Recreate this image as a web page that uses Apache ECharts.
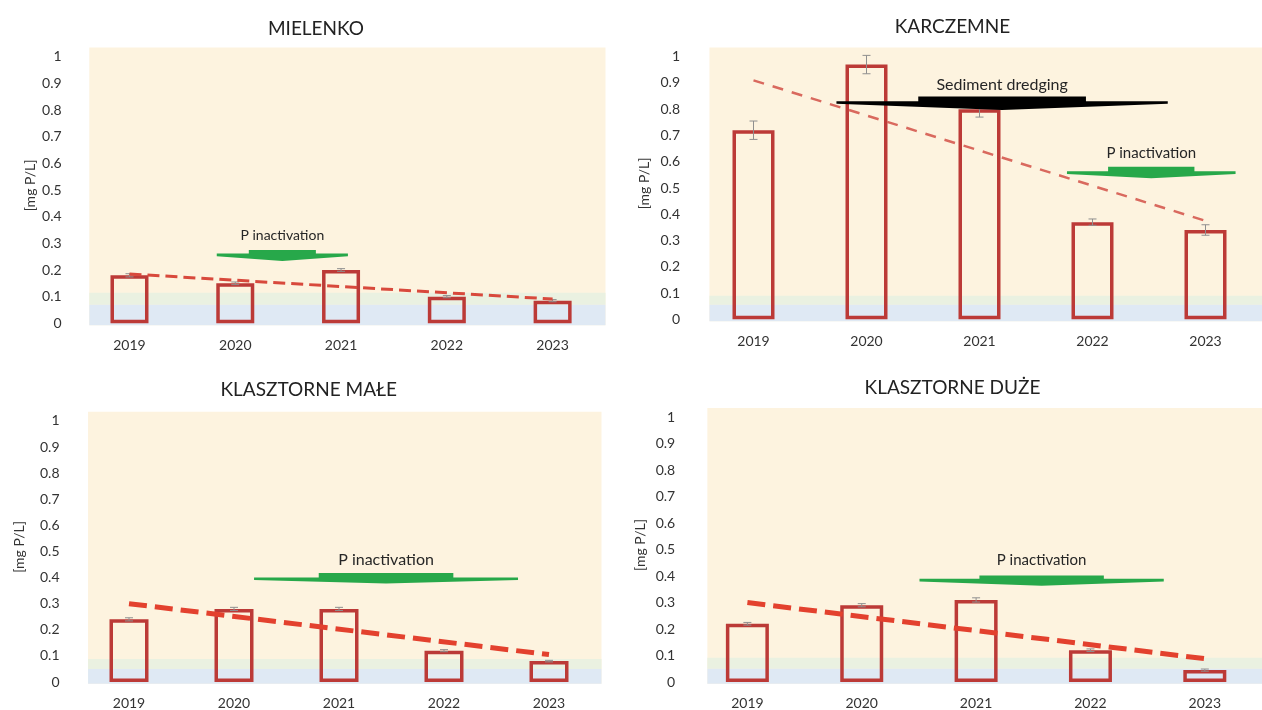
<!DOCTYPE html>
<html>
<head>
<meta charset="utf-8">
<script src="https://cdn.jsdelivr.net/npm/echarts/dist/echarts.min.js"></script>
<style>
  html, body { margin: 0; padding: 0; background: #ffffff; }
  #chart { width: 1262px; height: 710px; }
</style>
</head>
<body>
<div id="chart"></div>
<script>
// Total phosphorus in four lakes, 2019–2023 [mg P/L]
const years = ['2019', '2020', '2021', '2022', '2023'];
const lakes = ['MIELENKO', 'KARCZEMNE', 'KLASZTORNE MAŁE', 'KLASZTORNE DUŻE'];

// mean concentration per year
const mielenko       = [0.18, 0.15, 0.20, 0.10, 0.085];
const karczemne      = [0.72, 0.97, 0.80, 0.37, 0.34];
const klasztorneMale = [0.24, 0.28, 0.28, 0.12, 0.08];
const klasztorneDuze = [0.22, 0.29, 0.31, 0.12, 0.045];

// standard error per year
const mielenkoErr       = [0.006, 0.005, 0.005, 0.004, 0.004];
const karczemneErr      = [0.035, 0.035, 0.03, 0.012, 0.02];
const klasztorneMaleErr = [0.006, 0.006, 0.006, 0.004, 0.003];
const klasztorneDuzeErr = [0.005, 0.006, 0.008, 0.005, 0.004];

// trend line values at 2019 and 2023
const mielenkoTrend       = [0.185, 0.091];
const karczemneTrend      = [0.91, 0.375];
const klasztorneMaleTrend = [0.30, 0.105];
const klasztorneDuzeTrend = [0.30, 0.088];

// y axis ticks
const yMin = 0, yMax = 1, yStep = 0.1;
const axisTitle = '[mg P/L]';

const FONT = 'Lato, "Open Sans", sans-serif';
const YTOP = 1.035;           // plot background reaches a little above the last tick
const GREEN = '#27a84a';
const TEXT = '#333333';

const panels = [
  {
    title: lakes[0], values: mielenko, err: mielenkoErr, trend: mielenkoTrend,
    grid: { left: 76.6, top: 47.4, width: 528.9, height: 275.9 },
    titleX: 311, titleY: 14, bgLeft: -0.38, bands: [0.07, 0.115], barWidth: 38,
    yLabelMargin: 15, nameGap: 39, xLabelMargin: 15,
    trendStyle: { color: '#d8493c', width: 3, dash: [12, 6] },
    arrows: [
      { text: 'P inactivation', color: GREEN, cx: 1.445, wing: 0.62, shaft: 0.317,
        shaftTop: 0.275, wingY: 0.256, tipY: 0.234, textY: 0.331, fontSize: 14 }
    ]
  },
  {
    title: lakes[1], values: karczemne, err: karczemneErr, trend: karczemneTrend,
    grid: { left: 697, top: 47.5, width: 569.6, height: 271.8 },
    titleX: 947.5, titleY: 12.5, bgLeft: -0.39, bands: [0.055, 0.09], barWidth: 42,
    yLabelMargin: 17, nameGap: 46, xLabelMargin: 15,
    trendStyle: { color: '#d9695e', width: 2.5, dash: [11, 9] },
    arrows: [
      { text: 'Sediment dredging', color: '#000000', cx: 2.2, wing: 1.466, shaft: 0.742,
        shaftTop: 0.848, wingY: 0.825, tipY: 0.797, textY: 0.892, fontSize: 16 },
      { text: 'P inactivation', color: GREEN, cx: 3.52, wing: 0.746, shaft: 0.382,
        shaftTop: 0.581, wingY: 0.558, tipY: 0.537, textY: 0.634, fontSize: 15 }
    ]
  },
  {
    title: lakes[2], values: klasztorneMale, err: klasztorneMaleErr, trend: klasztorneMaleTrend,
    grid: { left: 76.5, top: 411.8, width: 525, height: 270.9 },
    titleX: 303.7, titleY: 375, bgLeft: -0.39, bands: [0.05, 0.088], barWidth: 39,
    yLabelMargin: 17, nameGap: 50, xLabelMargin: 14,
    trendStyle: { color: '#e3412e', width: 5, dash: [18, 8] },
    arrows: [
      { text: 'P inactivation', color: GREEN, cx: 2.448, wing: 1.257, shaft: 0.641,
        shaftTop: 0.418, wingY: 0.395, tipY: 0.377, textY: 0.469, fontSize: 16 }
    ]
  },
  {
    title: lakes[3], values: klasztorneDuze, err: klasztorneDuzeErr, trend: klasztorneDuzeTrend,
    grid: { left: 690.2, top: 408, width: 580.8, height: 274.7 },
    titleX: 947.5, titleY: 373.5, bgLeft: -0.35, bands: [0.05, 0.092], barWidth: 43,
    yLabelMargin: 15, nameGap: 43, xLabelMargin: 14,
    trendStyle: { color: '#e3412e', width: 5, dash: [18, 8] },
    arrows: [
      { text: 'P inactivation', color: GREEN, cx: 2.573, wing: 1.068, shaft: 0.544,
        shaftTop: 0.402, wingY: 0.384, tipY: 0.364, textY: 0.462, fontSize: 15 }
    ]
  }
];

const option = {
  backgroundColor: '#ffffff',
  animation: false,
  textStyle: { fontFamily: FONT },
  title: [], grid: [], xAxis: [], yAxis: [], series: []
};

panels.forEach((p, k) => {
  const catAxis = 2 * k, valAxis = 2 * k + 1;

  option.title.push({
    text: p.title, left: p.titleX, top: p.titleY, textAlign: 'center',
    textStyle: { fontFamily: FONT, fontSize: 19, fontWeight: 'normal', color: '#222222' }
  });

  option.grid.push(Object.assign({ containLabel: false }, p.grid));

  option.xAxis.push({
    type: 'category', gridIndex: k, data: years, boundaryGap: true,
    axisLine: { show: false }, axisTick: { show: false }, splitLine: { show: false },
    axisLabel: { margin: p.xLabelMargin, fontSize: 14, color: TEXT, fontFamily: FONT }
  });
  option.xAxis.push({
    type: 'value', gridIndex: k, min: -0.5, max: 4.5, show: false
  });

  option.yAxis.push({
    type: 'value', gridIndex: k, min: yMin, max: YTOP, interval: yStep,
    name: axisTitle, nameLocation: 'middle', nameRotate: 90, nameGap: p.nameGap,
    nameTextStyle: { fontSize: 14, color: TEXT, fontFamily: FONT },
    axisLine: { show: false }, axisTick: { show: false }, splitLine: { show: false },
    axisLabel: {
      margin: p.yLabelMargin, fontSize: 14, color: TEXT, fontFamily: FONT,
      showMaxLabel: false,
      formatter: v => (v > yMax + 1e-9 ? '' : String(+v.toFixed(1)))
    }
  });

  // plot background with the low-concentration bands
  option.series.push({
    type: 'custom', xAxisIndex: valAxis, yAxisIndex: k, z: 0, silent: true,
    data: [[0, 0]],
    renderItem: (params, api) => {
      const tl = api.coord([p.bgLeft, YTOP]);
      const br = api.coord([4.5, -0.007]);
      const b1 = api.coord([0, p.bands[0]])[1];
      const b2 = api.coord([0, p.bands[1]])[1];
      const w = br[0] - tl[0];
      return {
        type: 'group',
        children: [
          { type: 'rect', shape: { x: tl[0], y: tl[1], width: w, height: br[1] - tl[1] },
            style: { fill: '#fdf3df' } },
          { type: 'rect', shape: { x: tl[0], y: b2, width: w, height: b1 - b2 },
            style: { fill: '#eaf1e1' } },
          { type: 'rect', shape: { x: tl[0], y: b1, width: w, height: br[1] - b1 },
            style: { fill: '#dfe9f4' } }
        ]
      };
    }
  });

  // hollow bars
  option.series.push({
    type: 'bar', xAxisIndex: catAxis, yAxisIndex: k, z: 3,
    data: p.values, barWidth: p.barWidth,
    itemStyle: { color: 'rgba(0,0,0,0)', borderColor: '#bc3a37', borderWidth: 3.5 }
  });

  // error bars
  option.series.push({
    type: 'custom', xAxisIndex: valAxis, yAxisIndex: k, z: 4, silent: true,
    data: p.values.map((v, i) => [i, v - p.err[i], v + p.err[i]]),
    renderItem: (params, api) => {
      const lo = api.coord([api.value(0), api.value(1)]);
      const hi = api.coord([api.value(0), api.value(2)]);
      const st = { stroke: '#8f8f8f', lineWidth: 1 };
      return {
        type: 'group',
        children: [
          { type: 'line', shape: { x1: lo[0], y1: lo[1], x2: hi[0], y2: hi[1] }, style: st },
          { type: 'line', shape: { x1: lo[0] - 4, y1: lo[1], x2: lo[0] + 4, y2: lo[1] }, style: st },
          { type: 'line', shape: { x1: hi[0] - 4, y1: hi[1], x2: hi[0] + 4, y2: hi[1] }, style: st }
        ]
      };
    }
  });

  // linear trend
  option.series.push({
    type: 'line', xAxisIndex: valAxis, yAxisIndex: k, z: 5, silent: true,
    data: [[0, p.trend[0]], [4, p.trend[1]]], symbol: 'none',
    lineStyle: { color: p.trendStyle.color, width: p.trendStyle.width, type: p.trendStyle.dash }
  });

  // treatment arrows with their captions
  option.series.push({
    type: 'custom', xAxisIndex: valAxis, yAxisIndex: k, z: 6, silent: true,
    data: [[0, 0]],
    renderItem: (params, api) => {
      const children = [];
      p.arrows.forEach(a => {
        const L = api.coord([a.cx - a.wing, a.wingY])[0];
        const R = api.coord([a.cx + a.wing, a.wingY])[0];
        const sL = api.coord([a.cx - a.shaft, a.wingY])[0];
        const sR = api.coord([a.cx + a.shaft, a.wingY])[0];
        const C = api.coord([a.cx, a.wingY])[0];
        const wy = api.coord([a.cx, a.wingY])[1];
        const sy = api.coord([a.cx, a.shaftTop])[1];
        const ty = api.coord([a.cx, a.tipY])[1];
        const txy = api.coord([a.cx, a.textY]);
        children.push({
          type: 'polygon',
          shape: { points: [
            [L, wy - 1.5], [sL, wy - 1.5], [sL, sy], [sR, sy], [sR, wy - 1.5],
            [R, wy - 1.5], [R, wy + 1.2], [C, ty], [L, wy + 1.2]
          ] },
          style: { fill: a.color }
        });
        children.push({
          type: 'text',
          style: { text: a.text, x: txy[0], y: txy[1], align: 'center', verticalAlign: 'middle',
                   fill: '#262626', fontSize: a.fontSize, fontFamily: FONT }
        });
      });
      return { type: 'group', children };
    }
  });
});

const chart = echarts.init(document.getElementById('chart'), null, { renderer: 'canvas' });
chart.setOption(option);
</script>
</body>
</html>
